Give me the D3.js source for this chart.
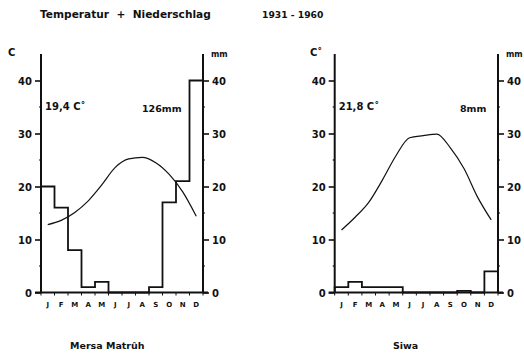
<!DOCTYPE html>
<html><head><meta charset="utf-8">
<script src="https://cdn.jsdelivr.net/npm/d3@7"></script>
<style>
body{margin:0;background:#fff;}
svg text{font-family:"DejaVu Sans",sans-serif;font-weight:bold;fill:#111;}
</style></head>
<body><svg id="c" width="524" height="353"></svg>
<script>
const months = ["J","F","M","A","M","J","J","A","S","O","N","D"];
const yTicks = [0,10,20,30,40];
const minorTicks = [5,15,25,35];
const stations = ["Mersa Matrûh","Siwa"];
const tempMersa = [12.8,13.6,15.1,17.3,20.3,23.6,25.2,25.5,24.5,22.3,19.0,14.4];
const precMersa = [20,16,8,1,2,0,0,0,1,17,21,40];
const tempSiwa = [11.8,14.2,17.0,21.2,25.8,29.2,29.6,29.9,27.3,23.4,18.0,13.7];
const precSiwa = [1,2,1,1,1,0,0,0,0,0.3,0,4];
const meanTemp = ["19,4 C˚","21,8 C˚"];
const totalPrec = ["126mm","8mm"];
const title = "Temperatur + Niederschlag";
const period = "1931 - 1960";

const svg = d3.select("#c");
svg.append("text").attr("x",40).attr("y",18).attr("font-size",10.6).attr("xml:space","preserve").text(title.replace(" + ","  +  "));
svg.append("text").attr("x",262).attr("y",18).attr("font-size",9.2).text(period);

const panels = [
  {x0:41, x1:203, temp:tempMersa, prec:precMersa, cLabel:"C", cx:8, name:stations[0], nx:70, mt:meanTemp[0], tp:totalPrec[0], tpx:142},
  {x0:334.7, x1:498, temp:tempSiwa, prec:precSiwa, cLabel:"C˚", cx:310, name:stations[1], nx:393, mt:meanTemp[1], tp:totalPrec[1], tpx:460}
];

const y = d3.scaleLinear().domain([0,40]).range([292.5,80.5]);

panels.forEach(p => {
  const g = svg.append("g");
  const x = d3.scaleBand().domain(d3.range(12)).range([p.x0,p.x1]).paddingInner(0).paddingOuter(0);
  const bw = x.bandwidth();

  const pts = [[p.x0, 0]];
  p.prec.forEach((v,i) => { pts.push([x(i), v]); pts.push([x(i)+bw, v]); });
  pts.push([p.x1, 0]);
  g.append("path")
    .attr("d", d3.line().x(d=>d[0]).y(d=>y(d[1]))(pts))
    .attr("fill","none").attr("stroke","#111").attr("stroke-width",1.8);

  g.append("path")
    .attr("d", d3.line().x((d,i)=>x(i)+bw/2).y(d=>y(d)).curve(d3.curveMonotoneX)(p.temp))
    .attr("fill","none").attr("stroke","#111").attr("stroke-width",1.2);

  const la = d3.axisLeft(y).tickValues(yTicks).tickSize(6).tickPadding(3);
  const lg = g.append("g").attr("transform",`translate(${p.x0},0)`).call(la);
  const ra = d3.axisRight(y).tickValues(yTicks).tickSize(6).tickPadding(3);
  const rg = g.append("g").attr("transform",`translate(${p.x1},0)`).call(ra);
  [lg,rg].forEach(a => {
    a.select(".domain").remove();
    a.selectAll(".tick line").attr("stroke","#111").attr("stroke-width",1.6);
    a.selectAll(".tick text").attr("font-size",10).attr("font-family","DejaVu Sans").attr("font-weight","bold").attr("fill","#111").attr("dy","0.35em");
  });
  [[p.x0,-1],[p.x1,1]].forEach(([ax,dir]) => {
    g.selectAll(null).data(minorTicks).enter().append("line")
      .attr("x1",ax).attr("x2",ax+dir*2).attr("y1",d=>y(d)).attr("y2",d=>y(d))
      .attr("stroke","#111").attr("stroke-width",1.2);
  });
  [p.x0,p.x1].forEach(ax => {
    g.append("line").attr("x1",ax).attr("x2",ax).attr("y1",y(45)).attr("y2",y(0))
      .attr("stroke","#111").attr("stroke-width",2);
  });
  g.append("line").attr("x1",p.x0-6).attr("x2",p.x1+5).attr("y1",y(0)).attr("y2",y(0))
    .attr("stroke","#111").attr("stroke-width",2);
  const bounds = d3.range(13).map(i => i<12 ? x(i) : p.x1);
  g.selectAll(null).data(bounds).enter().append("line")
    .attr("x1",d=>d).attr("x2",d=>d).attr("y1",y(0)).attr("y2",y(0)+3)
    .attr("stroke","#111").attr("stroke-width",1);
  g.selectAll(null).data(months).enter().append("text")
    .attr("x",(d,i)=>x(i)+bw/2).attr("y",307).attr("text-anchor","middle")
    .attr("font-size",7).text(d=>d);

  g.append("text").attr("x",p.cx).attr("y",56).attr("font-size",10).text(p.cLabel);
  g.append("text").attr("x",p.x1+8).attr("y",57).attr("font-size",8).text("mm");
  g.append("text").attr("x",p.x0+4).attr("y",110).attr("font-size",10).text(p.mt);
  g.append("text").attr("x",p.tpx).attr("y",112).attr("font-size",9.5).text(p.tp);
  g.append("text").attr("x",p.nx).attr("y",349).attr("font-size",9.5).text(p.name);
});
</script></body></html>
